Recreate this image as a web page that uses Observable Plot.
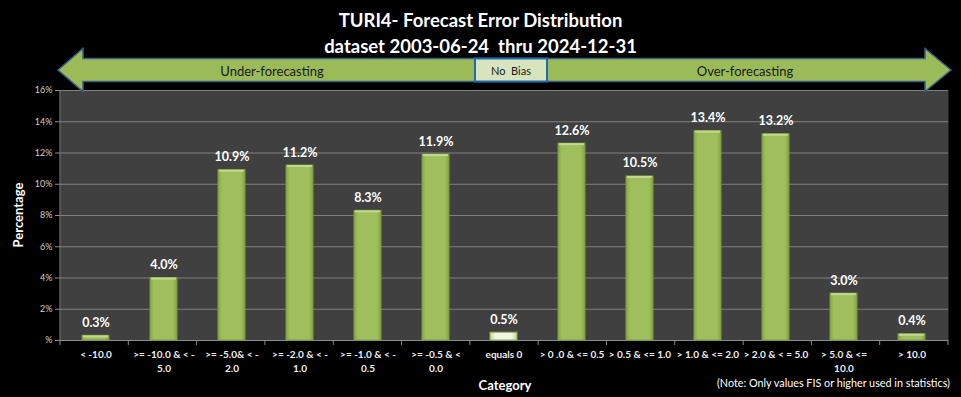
<!DOCTYPE html>
<html>
<head>
<meta charset="utf-8">
<script src="https://cdn.jsdelivr.net/npm/d3@7"></script>
<script src="https://cdn.jsdelivr.net/npm/@observablehq/plot@0.6"></script>
<style>
  html, body { margin: 0; padding: 0; background: #000; }
  #chart { width: 961px; height: 397px; overflow: hidden; }
  svg { display: block; }
</style>
</head>
<body>
<div id="chart"></div>
<script>
const titleLines = ["TURI4- Forecast Error Distribution", "dataset 2003-06-24  thru 2024-12-31"];
const categories = ["< -10.0", ">= -10.0 & < -5.0", ">= -5.0& < -2.0", ">= -2.0 & < -1.0", ">= -1.0 & < -0.5", ">= -0.5 & < 0.0", "equals 0", "> 0 .0 & <= 0.5", "> 0.5 & <= 1.0", "> 1.0 & <= 2.0", "> 2.0 & < = 5.0", "> 5.0 & <= 10.0", "> 10.0"];
const tickLabels = ["< -10.0", ">= -10.0 & < -\n5.0", ">= -5.0& < -\n2.0", ">= -2.0 & < -\n1.0", ">= -1.0 & < -\n0.5", ">= -0.5 & <\n0.0", "equals 0", "> 0 .0 & <= 0.5", "> 0.5 & <= 1.0", "> 1.0 & <= 2.0", "> 2.0 & < = 5.0", "> 5.0 & <=\n10.0", "> 10.0"];
const values = [0.3, 4.0, 10.9, 11.2, 8.3, 11.9, 0.5, 12.6, 10.5, 13.4, 13.2, 3.0, 0.4];
const yTicks = [0, 2, 4, 6, 8, 10, 12, 14, 16];
const zeroCategory = "equals 0";

const rows = categories.map((c, i) => ({category: c, value: values[i]}));
const labelOf = new Map(categories.map((c, i) => [c, tickLabels[i]]));
const FONT = "Lato, 'Open Sans', sans-serif";

function decor(index, scales, vals, dims) {
  const {width, height, marginLeft: ml, marginRight: mr, marginTop: mt, marginBottom: mb} = dims;
  const g = d3.create("svg:g");
  const defs = g.append("defs");
  const grad = defs.append("linearGradient").attr("id", "barGrad").attr("x1", 0).attr("x2", 1).attr("y1", 0).attr("y2", 0);
  grad.append("stop").attr("offset", "0%").attr("stop-color", "#88a84a");
  grad.append("stop").attr("offset", "15%").attr("stop-color", "#9fbf5c");
  grad.append("stop").attr("offset", "85%").attr("stop-color", "#9fbf5c");
  grad.append("stop").attr("offset", "100%").attr("stop-color", "#84a244");
  const grad2 = defs.append("linearGradient").attr("id", "zeroGrad").attr("x1", 0).attr("x2", 1).attr("y1", 0).attr("y2", 0);
  grad2.append("stop").attr("offset", "0%").attr("stop-color", "#c9d9a8");
  grad2.append("stop").attr("offset", "20%").attr("stop-color", "#f1f5e6");
  grad2.append("stop").attr("offset", "80%").attr("stop-color", "#f1f5e6");
  grad2.append("stop").attr("offset", "100%").attr("stop-color", "#c3d49e");

  const plotW = width - ml - mr;
  const n = categories.length;
  const step = plotW / n;
  const y0 = height - mb;
  // left axis line
  g.append("line").attr("x1", ml).attr("x2", ml).attr("y1", mt).attr("y2", y0).attr("stroke", "#8c8c8c");
  // category boundary ticks
  for (let i = 0; i <= n; i++) {
    const x = ml + i * step;
    g.append("line").attr("x1", x).attr("x2", x).attr("y1", y0).attr("y2", y0 + 5).attr("stroke", "#8c8c8c");
  }
  // titles
  titleLines.forEach((t, i) => {
    g.append("text").attr("x", width / 2).attr("y", 21 + i * 26).attr("dy", "0.35em")
      .attr("text-anchor", "middle").attr("fill", "#fff").attr("font-weight", "bold")
      .attr("font-family", FONT).attr("font-size", 18.5).text(t);
  });
  // double arrow
  const cy = mt - 20;
  const sh = 11.5, hh = 21.5;
  const lt = ml - 2, lb = ml + 23, rt = width - mr + 3, rb = width - mr - 23;
  const pts = [[lt, cy], [lb, cy - hh], [lb, cy - sh], [rb, cy - sh], [rb, cy - hh], [rt, cy], [rb, cy + hh], [rb, cy + sh], [lb, cy + sh], [lb, cy + hh]];
  g.append("polygon").attr("points", pts.map(p => p.join(",")).join(" "))
    .attr("fill", "#9bbb59").attr("stroke", "#385d8a").attr("stroke-width", 1.5);
  const zi = categories.indexOf(zeroCategory);
  const zc = ml + (zi + 0.5) * step + 7;
  g.append("rect").attr("x", zc - 36).attr("y", cy - sh).attr("width", 72).attr("height", 2 * sh)
    .attr("fill", "#d7e4bd").attr("stroke", "#1f6bb0").attr("stroke-width", 2);
  g.append("text").attr("x", zc).attr("y", cy + 1).attr("dy", "0.35em").attr("text-anchor", "middle")
    .attr("font-family", FONT).attr("font-size", 11).attr("fill", "#1a1a1a").text("No  Bias");
  g.append("text").attr("x", (lb + zc - 36) / 2 - 7).attr("y", cy + 1).attr("dy", "0.35em").attr("text-anchor", "middle")
    .attr("font-family", FONT).attr("font-size", 13).attr("fill", "#1a1a1a").text("Under-forecasting");
  g.append("text").attr("x", (rb + zc + 36) / 2 + 9).attr("y", cy + 1).attr("dy", "0.35em").attr("text-anchor", "middle")
    .attr("font-family", FONT).attr("font-size", 13).attr("fill", "#1a1a1a").text("Over-forecasting");
  // axis titles
  g.append("text").attr("transform", `translate(18,${(mt + y0) / 2}) rotate(-90)`).attr("dy", "0.35em")
    .attr("text-anchor", "middle").attr("fill", "#fff").attr("font-weight", "bold")
    .attr("font-family", FONT).attr("font-size", 13).text("Percentage");
  g.append("text").attr("x", 505).attr("y", 385).attr("dy", "0.35em")
    .attr("text-anchor", "middle").attr("fill", "#fff").attr("font-weight", "bold")
    .attr("font-family", FONT).attr("font-size", 13).text("Category");
  g.append("text").attr("x", width - mr + 2).attr("y", 383).attr("dy", "0.35em")
    .attr("text-anchor", "end").attr("fill", "#fff")
    .attr("font-family", FONT).attr("font-size", 10.8).text("(Note: Only values FIS or higher used in statistics)");
  return g.node();
}

const chart = Plot.plot({
  width: 961,
  height: 397,
  marginLeft: 60,
  marginRight: 13,
  marginTop: 90,
  marginBottom: 57,
  style: {background: "#000", fontFamily: FONT},
  x: {domain: categories, paddingInner: 0.6, paddingOuter: 0.3, axis: null},
  y: {domain: [0, 16], axis: null},
  marks: [
    Plot.frame({fill: "#404040"}),
    Plot.gridY(yTicks, {stroke: "#808080", strokeOpacity: 1}),
    Plot.axisY(yTicks, {tickFormat: d => d === 0 ? "%" : d + "%", tickSize: 5, tickPadding: 3, stroke: "#8c8c8c", fill: "#d0d0d0", fontSize: 9, label: null}),
    Plot.axisX({tickFormat: d => labelOf.get(d), tickSize: 0, tickPadding: 7, fill: "#f0f0f0", fontSize: 10, fontWeight: "bold", lineHeight: 1.45, label: null}),
    Plot.ruleY([0], {stroke: "#8c8c8c"}),
    Plot.barY(rows.filter(d => d.category !== zeroCategory), {x: "category", y: "value", fill: "url(#barGrad)", stroke: "#7b9a3d", strokeWidth: 1}),
    Plot.barY(rows.filter(d => d.category === zeroCategory), {x: "category", y: "value", fill: "url(#zeroGrad)", stroke: "#8aab4a", strokeWidth: 1}),
    Plot.barY(rows.filter(d => d.category !== zeroCategory), {x: "category", y1: "value", y2: d => Math.max(0, d.value - 0.13), fill: "#c3d890", insetLeft: 1, insetRight: 1}),
    Plot.text(rows, {x: "category", y: "value", text: d => d.value.toFixed(1) + "%", dy: -13, fill: "#fff", fontWeight: "bold", fontSize: 12.5}),
    decor
  ]
});
document.getElementById("chart").appendChild(chart);
</script>
</body>
</html>
